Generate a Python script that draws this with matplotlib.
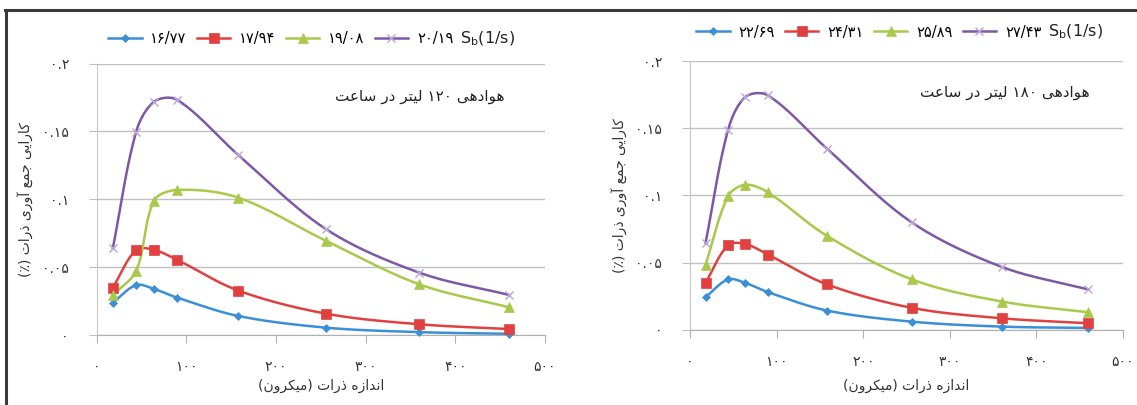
import re
import numpy as np
import matplotlib
matplotlib.use("Agg")
import matplotlib.pyplot as plt
from matplotlib.lines import Line2D

# ---------------- data ----------------
sizes = [18, 44, 64, 90, 158, 256, 360, 460]

left_labels = ["۱۶/۷۷", "۱۷/۹۴", "۱۹/۰۸", "۲۰/۱۹"]
left_s1 = [0.0238, 0.0368, 0.0339, 0.0275, 0.0140, 0.0054, 0.0021, 0.0009]
left_s2 = [0.0349, 0.0627, 0.0627, 0.0553, 0.0327, 0.0157, 0.0079, 0.0044]
left_s3 = [0.0295, 0.0472, 0.0990, 0.1069, 0.1012, 0.0693, 0.0373, 0.0204]
left_s4 = [0.0640, 0.1498, 0.1719, 0.1732, 0.1326, 0.0779, 0.0459, 0.0295]

right_labels = ["۲۲/۶۹", "۲۴/۳۱", "۲۵/۸۹", "۲۷/۴۳"]
right_s1 = [0.0243, 0.0375, 0.0348, 0.0280, 0.0143, 0.0060, 0.0023, 0.0013]
right_s2 = [0.0350, 0.0630, 0.0638, 0.0560, 0.0338, 0.0163, 0.0085, 0.0048]
right_s3 = [0.0485, 0.0995, 0.1080, 0.1023, 0.0700, 0.0375, 0.0210, 0.0130]
right_s4 = [0.0648, 0.1490, 0.1734, 0.1746, 0.1350, 0.0800, 0.0468, 0.0300]

xticks = [0, 100, 200, 300, 400, 500]
xtick_labels = ["۰", "۱۰۰", "۲۰۰", "۳۰۰", "۴۰۰", "۵۰۰"]
yticks = [0, 0.05, 0.1, 0.15, 0.2]
ytick_labels = ["۰", "۰.۰۵", "۰.۱", "۰.۱۵", "۰.۲"]

xlabel_text = "اندازه ذرات (میکرون)"
ylabel_text = "کارایی جمع آوری ذرات (٪)"
left_note = "هوادهی ۱۲۰ لیتر در ساعت"
right_note = "هوادهی ۱۸۰ لیتر در ساعت"
unit_text = r"$\mathrm{S_b}$(1/s)"

# ---------------- Persian shaping (presentation forms, visual order) ----------------
FORMS = {
    '\u0627': ('\uFE8D', '\uFE8E', None, None),
    '\u0622': ('\uFE81', '\uFE82', None, None),
    '\u062A': ('\uFE95', '\uFE96', '\uFE97', '\uFE98'),
    '\u062C': ('\uFE9D', '\uFE9E', '\uFE9F', '\uFEA0'),
    '\u062F': ('\uFEA9', '\uFEAA', None, None),
    '\u0630': ('\uFEAB', '\uFEAC', None, None),
    '\u0631': ('\uFEAD', '\uFEAE', None, None),
    '\u0632': ('\uFEAF', '\uFEB0', None, None),
    '\u0633': ('\uFEB1', '\uFEB2', '\uFEB3', '\uFEB4'),
    '\u0639': ('\uFEC9', '\uFECA', '\uFECB', '\uFECC'),
    '\u0644': ('\uFEDD', '\uFEDE', '\uFEDF', '\uFEE0'),
    '\u0645': ('\uFEE1', '\uFEE2', '\uFEE3', '\uFEE4'),
    '\u0646': ('\uFEE5', '\uFEE6', '\uFEE7', '\uFEE8'),
    '\u0647': ('\uFEE9', '\uFEEA', '\uFEEB', '\uFEEC'),
    '\u0648': ('\uFEED', '\uFEEE', None, None),
    '\u06CC': ('\uFEEF', '\uFEF0', '\uFEF3', '\uFEF4'),
    '\u06A9': ('\uFED9', '\uFEDA', '\uFEDB', '\uFEDC'),
}


def fa(s):
    out = []
    for i, c in enumerate(s):
        if c not in FORMS:
            out.append(c)
            continue
        f = FORMS[c]
        prev = s[i - 1] if i > 0 else None
        nxt = s[i + 1] if i + 1 < len(s) else None
        pj = prev in FORMS and FORMS[prev][2] is not None
        nj = f[2] is not None and nxt in FORMS
        idx = 3 if (pj and nj) else 1 if pj else 2 if nj else 0
        out.append(f[idx])
    shaped = ''.join(out)
    toks = re.findall(r'[\u06F0-\u06F9/.]+|[^\u06F0-\u06F9/.]+', shaped)
    mirror = {'(': ')', ')': '('}
    res = []
    for t in reversed(toks):
        if re.fullmatch(r'[\u06F0-\u06F9/.]+', t):
            res.append(t)
        else:
            res.append(''.join(mirror.get(ch, ch) for ch in reversed(t)))
    return ''.join(res)


# ---------------- style ----------------
plt.rcParams['font.family'] = ['DejaVu Sans']
colors = ['#3a8fd6', '#e0403f', '#a9c94a', '#7e58a6']
markers = ['D', 's', '^', 'x']
msizes = [4.5, 6.5, 6.5, 6]
mcolors = ['#3a8fd6', '#e0403f', '#a9c94a', '#b9a6d6']

W, H = 1137, 405
fig = plt.figure(figsize=(W / 100, H / 100), dpi=100)


def smooth(ax, xs, ys, n=40, k=0.5):
    P = ax.transData.transform(np.column_stack([xs, ys]))
    Pp = np.vstack([P[0], P, P[-1]])
    t = np.linspace(0, 1, n)[:, None]

    def tangent(a, b, c):
        d1 = np.linalg.norm(b - a)
        d2 = np.linalg.norm(c - b)
        if d1 + d2 == 0:
            return np.zeros(2)
        return (c - a) / (d1 + d2)

    pts = []
    for i in range(len(P) - 1):
        p0, p1, p2, p3 = Pp[i], Pp[i + 1], Pp[i + 2], Pp[i + 3]
        seg_len = np.linalg.norm(p2 - p1)
        c1 = p1 + tangent(p0, p1, p2) * seg_len * k * 0.667
        c2 = p2 - tangent(p1, p2, p3) * seg_len * k * 0.667
        seg = (1 - t) ** 3 * p1 + 3 * (1 - t) ** 2 * t * c1 + 3 * (1 - t) * t ** 2 * c2 + t ** 3 * p2
        pts.append(seg if i == 0 else seg[1:])
    pts = np.vstack(pts)
    return ax.transData.inverted().transform(pts)


def panel(rect, series, labels, note, note_xy, leg_x, leg_y, unit_x, ylab_x):
    ax = fig.add_axes(rect)
    ax.set_xlim(0, 500)
    ax.set_ylim(0, 0.2)
    ax.set_xticks(xticks)
    ax.set_xticklabels(xtick_labels)
    ax.set_yticks(yticks)
    ax.set_yticklabels(ytick_labels)
    ax.grid(axis='y', color='#c0c0c0', lw=1)
    ax.set_axisbelow(True)
    for sp in ['top', 'right']:
        ax.spines[sp].set_visible(False)
    ax.spines['left'].set_color('#c8c8c8')
    ax.spines['bottom'].set_color('#b0b0b0')
    ax.tick_params(axis='x', length=6, color='#b0b0b0', pad=12, labelsize=10, labelcolor='#333333')
    ax.tick_params(axis='y', length=6, color='#c0c0c0', pad=14, labelsize=10, labelcolor='#333333')
    handles = []
    for ys, c, m, ms, mc in zip(series, colors, markers, msizes, mcolors):
        sm = smooth(ax, sizes, ys)
        ax.plot(sm[:, 0], sm[:, 1], color=c, lw=1.8, zorder=3)
        ax.plot(sizes, ys, linestyle='none', marker=m, ms=ms, color=mc,
                mec=mc, mew=1.0 if m == 'x' else 0.5, zorder=4, clip_on=False)
        handles.append(Line2D([], [], color=c, lw=1.8, marker=m, ms=ms, mfc=mc, mec=mc,
                              mew=1.0 if m == 'x' else 0.5))
    fig.legend(handles, labels, loc='center left', bbox_to_anchor=(leg_x, leg_y),
               ncol=4, frameon=False, fontsize=10.5, handlelength=2.3,
               handletextpad=0.6, columnspacing=0.7, borderpad=0, borderaxespad=0)
    fig.text(unit_x, leg_y, unit_text, fontsize=11.5, va='center', ha='left', color='#222222')
    fig.text(note_xy[0], note_xy[1], fa(note), fontsize=11, ha='center', va='center',
             color='#222222')
    x_center = rect[0] + rect[2] * 0.5
    fig.text(x_center, 1 - 386 / H, fa(xlabel_text), fontsize=10, ha='center', va='center',
             color='#333333')
    fig.text(ylab_x, rect[1] + rect[3] * 0.5, fa(ylabel_text), fontsize=10, rotation=90,
             ha='center', va='center', color='#333333')
    return ax


left_rect = [96.7 / W, 1 - 335 / H, (545 - 96.7) / W, (335 - 63.6) / H]
right_rect = [690 / W, 1 - 329.7 / H, (1123 - 690) / W, (329.7 - 61.3) / H]

panel(left_rect, [left_s1, left_s2, left_s3, left_s4], left_labels, left_note,
      (420 / W, 1 - 97 / H), 108 / W, 1 - 39 / H, 460 / W, 26 / W)
panel(right_rect, [right_s1, right_s2, right_s3, right_s4], right_labels, right_note,
      (1005 / W, 1 - 93 / H), 696 / W, 1 - 32 / H, 1048 / W, 620 / W)

# outer frame lines
fig.add_artist(Line2D([5 / W, 1], [1 - 10 / H, 1 - 10 / H], color='#3a3a3a', lw=2.2))
fig.add_artist(Line2D([6 / W, 6 / W], [0, 1 - 10 / H], color='#3a3a3a', lw=2.2))

fig.savefig('out.png', dpi=100)
